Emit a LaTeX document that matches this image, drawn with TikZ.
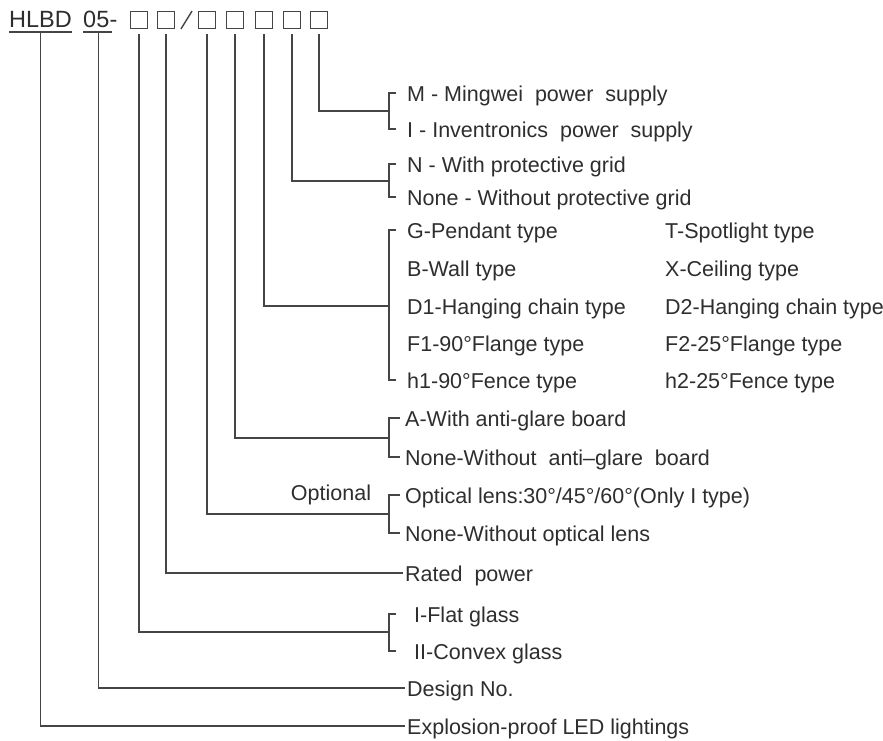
\documentclass[tikz,border=0pt]{standalone}
\usepackage{fontspec}
\setmainfont{Liberation Sans}
\usetikzlibrary{calc}
\definecolor{ink}{HTML}{2E2E2E}
\definecolor{wire}{HTML}{454545}
\begin{document}
\begin{tikzpicture}[x=1pt,y=-1pt,
  lbl/.style={anchor=base west, inner sep=0pt, text=ink, font=\fontsize{21.5}{24}\selectfont},
  head/.style={lbl, font=\fontsize{23.5}{26}\selectfont},
  wirel/.style={draw=wire, line width=1.4pt},
  box/.style={draw=wire, line width=1.4pt, minimum size=16.5pt, inner sep=0pt},
]
\useasboundingbox[fill=white] (0,0) rectangle (883,740);

% header
\node[head] (hlbd) at (9,27) {HLBD};
\node[head] (n05) at (83,27) {05};
\node[head] (dsh) at (n05.base east) {-};
\draw[wirel] ($(hlbd.base west)+(0,5)$) -- ($(hlbd.base east)+(0,5)$);
\draw[wirel] ($(n05.base west)+(0,5)$) -- ($(n05.base east)+(2,5)$);
\node[box] (b1) at (139,20) {};
\node[box] (b2) at (166,20) {};
\node[box] (b3) at (207,20) {};
\node[box] (b4) at (235,20) {};
\node[box] (b5) at (264,20) {};
\node[box] (b6) at (292,20) {};
\node[box] (b7) at (319,20) {};
\draw[wirel] ($(b2.south east)+(6,0)$) -- ($(b3.north west)+(-6,0)$);

% labels (baseline = row centre + 8)
\node[lbl] (m)   at (407,101) {M - Mingwei\ \ power\ \ supply};
\node[lbl] (i)   at (407,137) {I - Inventronics\ \ power\ \ supply};
\node[lbl] (n)   at (407,172) {N - With protective grid};
\node[lbl] (nn)  at (407,205) {None - Without protective grid};
\node[lbl] (g)   at (407,238) {G-Pendant type};
\node[lbl] (bw)  at (407,276) {B-Wall type};
\node[lbl] (d1)  at (407,314) {D1-Hanging chain type};
\node[lbl] (f1)  at (407,351) {F1-90°Flange type};
\node[lbl] (h1)  at (407,388) {h1-90°Fence type};
\node[lbl] (t)   at (665,238) {T-Spotlight type};
\node[lbl] (x)   at (665,276) {X-Ceiling type};
\node[lbl] (d2)  at (665,314) {D2-Hanging chain type};
\node[lbl] (f2)  at (665,351) {F2-25°Flange type};
\node[lbl] (h2)  at (665,388) {h2-25°Fence type};
\node[lbl] (a)   at (405,426) {A-With anti-glare board};
\node[lbl] (na)  at (405,465) {None-Without\ \ anti–glare\ \ board};
\node[lbl] (o)   at (405,503) {Optical lens:30°/45°/60°(Only I type)};
\node[lbl] (no)  at (405,541) {None-Without optical lens};
\node[lbl, anchor=base] (opt) at (331,500) {Optional};
\node[lbl] (rp)  at (405,581) {Rated\ \ power};
\node[lbl] (fg)  at (414,622) {I-Flat glass};
\node[lbl] (cg)  at (414,659) {II-Convex glass};
\node[lbl] (dn)  at (407,696) {Design No.};
\node[lbl] (ex)  at (407,734) {Explosion-proof LED lightings};

% brackets
\draw[wirel] (396,93) -- (389,93) |- (396,129);
\draw[wirel] (396,164) -- (389,164) |- (396,197);
\draw[wirel] (396,230) -- (389,230) |- (396,380);
\draw[wirel] (400,418) -- (389,418) |- (400,457);
\draw[wirel] (400,495) -- (389,495) |- (400,533);
\draw[wirel] (396,614) -- (389,614) |- (396,651);
\coordinate (k1) at (389,111);
\coordinate (k2) at (389,181);
\coordinate (k3) at (389,306);
\coordinate (k4) at (389,438);
\coordinate (k5) at (389,514);
\coordinate (k7) at (389,632);

% connectors
\draw[wirel] ($(b7.south)+(0,5)$) |- (k1);
\draw[wirel] ($(b6.south)+(0,5)$) |- (k2);
\draw[wirel] ($(b5.south)+(0,5)$) |- (k3);
\draw[wirel] ($(b4.south)+(0,5)$) |- (k4);
\draw[wirel] ($(b3.south)+(0,5)$) |- (k5);
\draw[wirel] ($(b2.south)+(0,5)$) |- ($(rp.base west)+(-2,-8)$);
\draw[wirel] ($(b1.south)+(0,5)$) |- (k7);
\draw[wirel] ($(n05.base)+(2,6)$) |- ($(dn.base west)+(-2,-8)$);
\draw[wirel] ($(hlbd.base)+(0,6)$) |- ($(ex.base west)+(-2,-8)$);
\end{tikzpicture}
\end{document}
